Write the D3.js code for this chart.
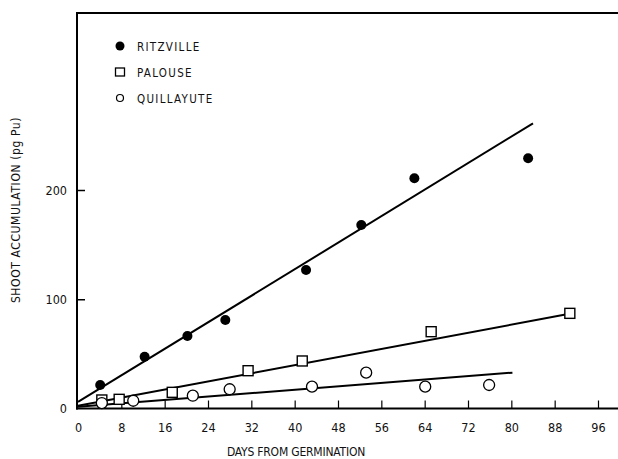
<!DOCTYPE html>
<html>
<head>
<meta charset="utf-8">
<script src="https://cdn.jsdelivr.net/npm/d3@7"></script>
<style>
  html, body { margin: 0; padding: 0; background: #fff; }
  svg { display: block; }
  text { font-family: "DejaVu Sans Condensed", "DejaVu Sans", sans-serif; fill: #111; }
</style>
</head>
<body>
<svg id="chart" width="618" height="459"></svg>
<script>
// ---- data ----
const xTicks = [0, 8, 16, 24, 32, 40, 48, 56, 64, 72, 80, 88, 96];
const yTicks = [0, 100, 200];

const ritzDays   = [4.1, 12.3, 20.2, 27.2, 42.1, 52.3, 62.1, 83.1];
const ritzValues = [21.5, 47.4, 66.4, 81, 126.8, 168, 210.7, 229];
const ritzFitDays = [0, 84];
const ritzFitValues = [6, 261];

const palDays   = [4.4, 7.6, 17.4, 31.4, 41.4, 65.2, 90.8];
const palValues = [7.8, 8.4, 14.8, 34.6, 43.5, 70.3, 87.1];
const palFitDays = [0, 90];
const palFitValues = [2.5, 86];

const quiDays   = [4.4, 10.2, 21.2, 28, 43.2, 53.2, 64.1, 75.9];
const quiValues = [5, 7.1, 11.7, 17.6, 20, 32.8, 20, 21.5];
const quiFitDays = [0, 80.2];
const quiFitValues = [1.5, 32.8];

const legendLabels = ["RITZVILLE", "PALOUSE", "QUILLAYUTE"];
const xTitle = "DAYS FROM GERMINATION";
const yTitle = "SHOOT ACCUMULATION (pg Pu)";

// ---- drawing ----
const svg = d3.select("#chart");
const x = d3.scaleLinear().domain([0, 96]).range([78, 598]);
const y = d3.scaleLinear().domain([0, 200]).range([408.5, 190]);

const axisX0 = 77, axisY0 = 408.5, topY = 13, rightX = 618;

// frame lines
svg.append("line").attr("x1", axisX0).attr("x2", axisX0).attr("y1", topY).attr("y2", axisY0 + 1)
  .attr("stroke", "#000").attr("stroke-width", 2);
svg.append("line").attr("x1", axisX0 - 1).attr("x2", rightX).attr("y1", axisY0).attr("y2", axisY0)
  .attr("stroke", "#000").attr("stroke-width", 2);
svg.append("line").attr("x1", axisX0 - 1).attr("x2", rightX).attr("y1", topY).attr("y2", topY)
  .attr("stroke", "#000").attr("stroke-width", 1.8);

// x axis ticks (inward)
const gx = svg.append("g").attr("transform", `translate(0,${axisY0})`)
  .call(d3.axisBottom(x).tickValues(xTicks).tickSizeInner(-8).tickSizeOuter(0).tickPadding(21)
    .tickFormat(d3.format("d")));
gx.select(".domain").remove();
gx.selectAll(".tick line").attr("stroke", "#000").attr("stroke-width", 1.2);
gx.selectAll(".tick text").attr("font-size", 12.5).attr("dy", "0.2em")
  .style("font-family", "'DejaVu Sans Condensed', sans-serif").attr("fill", "#111");
gx.selectAll(".tick").filter(d => d === 0).select("line").remove();

// y axis ticks (inward)
const gy = svg.append("g").attr("transform", `translate(${axisX0},0)`)
  .call(d3.axisLeft(y).tickValues(yTicks).tickSizeInner(-8).tickSizeOuter(0).tickPadding(10)
    .tickFormat(d3.format("d")));
gy.select(".domain").remove();
gy.selectAll(".tick line").attr("stroke", "#000").attr("stroke-width", 1.5);
gy.selectAll(".tick text").attr("font-size", 12.5)
  .style("font-family", "'DejaVu Sans Condensed', sans-serif").attr("fill", "#111");
gy.selectAll(".tick").filter(d => d === 0).select("line").remove();

// axis titles
svg.append("text").attr("x", 296).attr("y", 456).attr("text-anchor", "middle")
  .attr("font-size", 12).attr("letter-spacing", "-0.2px")
  .style("font-family", "'DejaVu Sans Condensed', sans-serif").text(xTitle);
svg.append("text").attr("transform", "translate(20,210) rotate(-90)").attr("text-anchor", "middle")
  .attr("font-size", 12).attr("letter-spacing", "0.6px")
  .style("font-family", "'DejaVu Sans Condensed', sans-serif").text(yTitle);

// fit lines
const line = d3.line().x(d => x(d[0])).y(d => y(d[1]));
function fit(days, vals) { return days.map((d, i) => [d, vals[i]]); }
[[ritzFitDays, ritzFitValues], [palFitDays, palFitValues], [quiFitDays, quiFitValues]].forEach(([d, v]) => {
  svg.append("path").datum(fit(d, v)).attr("d", line)
    .attr("fill", "none").attr("stroke", "#000").attr("stroke-width", 2);
});

// markers
svg.append("g").selectAll("circle").data(fit(ritzDays, ritzValues)).join("circle")
  .attr("cx", d => x(d[0])).attr("cy", d => y(d[1])).attr("r", 5).attr("fill", "#000");
svg.append("g").selectAll("rect").data(fit(palDays, palValues)).join("rect")
  .attr("x", d => x(d[0]) - 5).attr("y", d => y(d[1]) - 5).attr("width", 10).attr("height", 10)
  .attr("fill", "#fff").attr("stroke", "#000").attr("stroke-width", 1.4);
svg.append("g").selectAll("circle").data(fit(quiDays, quiValues)).join("circle")
  .attr("cx", d => x(d[0])).attr("cy", d => y(d[1])).attr("r", 5.5)
  .attr("fill", "#fff").attr("stroke", "#000").attr("stroke-width", 1.3);

// legend
const lg = svg.append("g");
const lx = 120, ly = [46, 72, 98];
lg.append("circle").attr("cx", lx).attr("cy", ly[0]).attr("r", 4.5).attr("fill", "#000");
lg.append("rect").attr("x", lx - 4.5).attr("y", ly[1] - 4).attr("width", 9).attr("height", 8)
  .attr("fill", "#fff").attr("stroke", "#000").attr("stroke-width", 1.3);
lg.append("circle").attr("cx", lx).attr("cy", ly[2]).attr("r", 3.5)
  .attr("fill", "#fff").attr("stroke", "#000").attr("stroke-width", 1.2);
lg.selectAll("text").data(legendLabels).join("text")
  .attr("x", 137).attr("y", (d, i) => ly[i] + 4.5).attr("font-size", 11.5).attr("letter-spacing", "1.3px")
  .style("font-family", "'DejaVu Sans Condensed', sans-serif").text(d => d);
</script>
</body>
</html>
